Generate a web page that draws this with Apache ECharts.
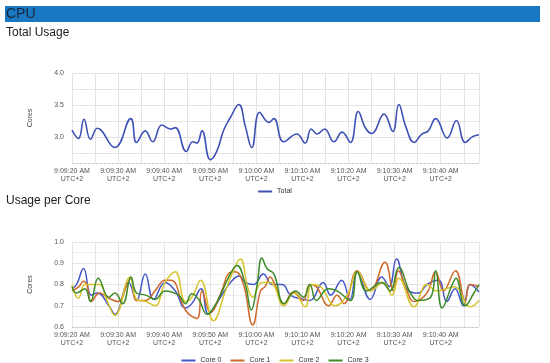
<!DOCTYPE html>
<html>
<head>
<meta charset="utf-8">
<script src="https://cdn.jsdelivr.net/npm/echarts@6/dist/echarts.min.js"></script>
<style>
  html, body { margin: 0; padding: 0; background: #fff; }
  #chart { width: 550px; height: 363px; }
</style>
</head>
<body>
<div id="chart"></div>
<script>
// ---- data (time in seconds after 9:09:20 AM UTC+2) ----
const xTickSeconds = [0, 10, 20, 30, 40, 50, 60, 70, 80];
const xTickLabels = ['9:09:20 AM', '9:09:30 AM', '9:09:40 AM', '9:09:50 AM', '9:10:00 AM',
                     '9:10:10 AM', '9:10:20 AM', '9:10:30 AM', '9:10:40 AM'];
const tzLabel = 'UTC+2';

const totalTimes = [0, 1.4, 2.6, 4, 5.5, 9.3, 12.75, 14, 15.9, 17.5, 19.5, 21.3, 22.4, 24.8, 26.2, 27.1, 28.2,
  30, 31.4, 32.9, 34.3, 36.2, 37.6, 39, 40.7, 42.7, 43.8, 45.9, 48.8, 50.6, 51.9, 53.2, 54.8, 56.8,
  58.6, 60.4, 62.1, 63.7, 65, 67.7, 69.6, 70.9, 72.4, 74.2, 75.9, 77.3, 78.9, 81.4, 83.4, 85.3, 86.9, 88.3];
const totalValues = [3.11, 2.98, 3.28, 2.97, 3.14, 2.84, 3.29, 2.92, 3.10, 2.93, 3.19, 3.13, 3.15, 2.78, 2.93, 2.91, 3.10,
  2.65, 2.78, 3.11, 3.30, 3.51, 3.17, 2.84, 3.39, 3.23, 3.29, 2.93, 3.05, 2.91, 3.13, 3.05, 3.13, 2.93,
  3.08, 2.92, 3.40, 3.14, 3.06, 3.36, 3.09, 3.51, 3.17, 2.92, 3.05, 3.10, 3.29, 2.99, 3.26, 2.92, 3.01, 3.04];

const core0Times = [0, 1, 2.5, 4.2, 5.5, 8, 9.3, 12.3, 14, 15.9, 17.7, 20.2, 22.4, 24.6, 26, 28, 29.6, 32.2, 34.4,
  36.3, 37.6, 39.4, 41.5, 43.4, 45.6, 47.4, 50.2, 51.6, 54.5, 56.1, 58.5, 60.3, 61.9, 64.7, 67.2, 68.8, 70.4,
  72.6, 75.2, 77, 79.5, 81.3, 83.1, 84.9, 86.4, 88.3];
const core0Values = [0.78, 0.80, 0.875, 0.75, 0.76, 0.70, 0.66, 0.81, 0.725, 0.85, 0.73, 0.81, 0.77, 0.69, 0.71, 0.78, 0.66, 0.74, 0.81,
  0.84, 0.81, 0.80, 0.85, 0.80, 0.80, 0.75, 0.73, 0.725, 0.81, 0.75, 0.82, 0.73, 0.86, 0.73, 0.835, 0.79, 0.92,
  0.78, 0.76, 0.80, 0.82, 0.72, 0.78, 0.70, 0.80, 0.765];

const core1Times = [0, 1.5, 2.5, 3.2, 4.2, 6, 8, 10, 12, 12.8, 14, 16, 18, 20.2, 21.5, 24.6, 27.1, 28.2, 30, 32.5,
  33.9, 35.4, 37.2, 39.2, 40.9, 41.9, 43, 44, 46, 48, 50.2, 51.6, 53, 55.7, 57.5, 59, 61.9, 64.7, 67.9, 69.7,
  70.8, 72.5, 74.2, 77, 78.9, 80.6, 83.2, 85.3, 86.4, 88.3];
const core1Values = [0.77, 0.79, 0.815, 0.80, 0.72, 0.76, 0.735, 0.72, 0.80, 0.83, 0.725, 0.725, 0.77, 0.82, 0.82, 0.68, 0.64, 0.77, 0.67, 0.77,
  0.85, 0.86, 0.80, 0.61, 0.77, 0.79, 0.835, 0.80, 0.71, 0.765, 0.725, 0.80, 0.79, 0.70, 0.75, 0.71, 0.865, 0.77, 0.905, 0.77,
  0.865, 0.78, 0.72, 0.76, 0.86, 0.77, 0.865, 0.725, 0.80, 0.79];

const core2Times = [0, 1.4, 2.8, 4.5, 6, 7.5, 9.3, 12.6, 14, 16, 18, 20.2, 22.4, 24.6, 26, 27.9, 30.7, 33.3, 34.7,
  36.5, 38.2, 39.2, 41.2, 43, 46, 48.1, 50.6, 52, 53.9, 57.1, 59.7, 62, 64.7, 67.6, 69.4, 70.9, 74.2, 77, 79.2,
  82.9, 86.4, 88.3];
const core2Values = [0.80, 0.735, 0.80, 0.80, 0.80, 0.73, 0.655, 0.835, 0.73, 0.72, 0.70, 0.81, 0.86, 0.72, 0.74, 0.82, 0.63, 0.77, 0.85,
  0.92, 0.78, 0.74, 0.81, 0.81, 0.70, 0.76, 0.695, 0.80, 0.79, 0.70, 0.75, 0.86, 0.77, 0.81, 0.75, 0.83, 0.695, 0.80, 0.77,
  0.79, 0.695, 0.725];

const core3Times = [0, 1, 2.8, 4, 5.7, 8, 9.3, 11, 12.8, 14, 16, 18, 20.2, 23.1, 24.6, 26, 27.5, 29.3, 30.4, 32.2,
  34, 35.8, 37.6, 38.9, 40.1, 41.2, 42.3, 43.8, 46, 48.5, 50.2, 51.6, 53, 55.6, 57.5, 60.4, 61.9, 63.9, 67.2, 69,
  70.9, 73.4, 75.2, 77.8, 78.9, 80.3, 82.5, 83.3, 85.3, 87.2, 88.3];
const core3Values = [0.79, 0.76, 0.78, 0.72, 0.83, 0.74, 0.76, 0.71, 0.835, 0.76, 0.75, 0.73, 0.77, 0.75, 0.71, 0.757, 0.73, 0.66, 0.68, 0.75,
  0.835, 0.89, 0.80, 0.68, 0.79, 0.925, 0.875, 0.85, 0.71, 0.77, 0.74, 0.80, 0.725, 0.78, 0.77, 0.725, 0.86, 0.77, 0.81, 0.77,
  0.88, 0.76, 0.725, 0.74, 0.865, 0.69, 0.80, 0.83, 0.70, 0.76, 0.80];

const coreNames = ['Core 0', 'Core 1', 'Core 2', 'Core 3'];
const totalYLabels = [3.0, 3.5, 4.0];
const totalYGrid = [2.75, 3.0, 3.25, 3.5, 3.75, 4.0];

// ---- chart ----
const FONT = '"Liberation Sans", Arial, sans-serif';
const lastT = 88.3;
const colors = { total: '#3f51b5', c0: '#4457c9', c1: '#cf6a2c', c2: '#d6c52e', c3: '#3d8a27' };

function pairs(ts, vs) { return ts.map((t, i) => [t, vs[i]]); }
function xLabel(v) {
  const i = xTickSeconds.indexOf(Math.round(v * 1000) / 1000);
  return i >= 0 ? xTickLabels[i] + '\n' + tzLabel : '';
}
function xAxisCfg(gi) {
  return {
    type: 'value', gridIndex: gi, min: 0, max: lastT, interval: 5,
    axisLine: { show: true, lineStyle: { color: '#cccccc', type: [2, 2], width: 1 } },
    axisTick: { show: false },
    splitLine: { show: true, lineStyle: { color: '#e3e3e3', width: 1 } },
    axisLabel: { formatter: xLabel, color: '#555', fontSize: 7, fontFamily: FONT, lineHeight: 8, margin: 4,
                 showMaxLabel: false, hideOverlap: false }
  };
}

const chart = echarts.init(document.getElementById('chart'), null, { renderer: 'canvas' });
chart.setOption({
  animation: false,
  backgroundColor: '#fff',
  textStyle: { fontFamily: FONT },
  graphic: [
    { type: 'rect', shape: { x: 5, y: 6, width: 535, height: 16 }, style: { fill: '#1a78c2' } },
    { type: 'text', x: 6, y: 14, style: { text: 'CPU', fill: '#15283d', font: '14px ' + FONT, textVerticalAlign: 'middle' } },
    { type: 'text', x: 6, y: 33, style: { text: 'Total Usage', fill: '#222', font: '12px ' + FONT, textVerticalAlign: 'middle' } },
    { type: 'text', x: 6, y: 201, style: { text: 'Usage per Core', fill: '#222', font: '12px ' + FONT, textVerticalAlign: 'middle' } }
  ],
  grid: [
    { left: 72, top: 73, width: 407, height: 90 },
    { left: 72, top: 242, width: 407, height: 85 }
  ],
  legend: [
    { data: ['Total'], top: 183, left: 'center', icon: 'rect', itemWidth: 14, itemHeight: 2, itemGap: 9,
      textStyle: { fontSize: 7, color: '#333', fontFamily: FONT } },
    { data: coreNames, top: 352, left: 'center', icon: 'rect', itemWidth: 14, itemHeight: 2, itemGap: 9,
      textStyle: { fontSize: 7, color: '#333', fontFamily: FONT } }
  ],
  xAxis: [xAxisCfg(0), xAxisCfg(1)],
  yAxis: [
    {
      type: 'value', gridIndex: 0, min: 2.6, max: 4.0,
      name: 'Cores', nameLocation: 'middle', nameGap: 38,
      nameTextStyle: { fontSize: 7, color: '#444', fontFamily: FONT },
      axisLine: { show: false },
      axisTick: { show: false, customValues: totalYGrid },
      splitLine: { show: true, lineStyle: { color: '#e3e3e3' } },
      axisLabel: { customValues: totalYLabels, formatter: v => v.toFixed(1), color: '#555', fontSize: 7, margin: 8 }
    },
    {
      type: 'value', gridIndex: 1, min: 0.6, max: 1.0, interval: 0.1,
      name: 'Cores', nameLocation: 'middle', nameGap: 38,
      nameTextStyle: { fontSize: 7, color: '#444', fontFamily: FONT },
      axisLine: { show: false },
      axisTick: { show: false },
      minorTick: { show: false, splitNumber: 2 },
      splitLine: { show: true, lineStyle: { color: '#e3e3e3' } },
      minorSplitLine: { show: true, lineStyle: { color: '#efefef' } },
      axisLabel: { formatter: v => v.toFixed(1), color: '#555', fontSize: 7, margin: 8, showMinLabel: true }
    }
  ],
  series: [
    { name: 'Total', type: 'line', xAxisIndex: 0, yAxisIndex: 0, data: pairs(totalTimes, totalValues),
      smooth: 0.45, showSymbol: false, lineStyle: { width: 1.6, color: colors.total }, itemStyle: { color: colors.total } },
    { name: 'Core 0', type: 'line', xAxisIndex: 1, yAxisIndex: 1, data: pairs(core0Times, core0Values),
      smooth: 0.45, showSymbol: false, lineStyle: { width: 1.5, color: colors.c0 }, itemStyle: { color: colors.c0 } },
    { name: 'Core 1', type: 'line', xAxisIndex: 1, yAxisIndex: 1, data: pairs(core1Times, core1Values),
      smooth: 0.45, showSymbol: false, lineStyle: { width: 1.5, color: colors.c1 }, itemStyle: { color: colors.c1 } },
    { name: 'Core 2', type: 'line', xAxisIndex: 1, yAxisIndex: 1, data: pairs(core2Times, core2Values),
      smooth: 0.45, showSymbol: false, lineStyle: { width: 1.5, color: colors.c2 }, itemStyle: { color: colors.c2 } },
    { name: 'Core 3', type: 'line', xAxisIndex: 1, yAxisIndex: 1, data: pairs(core3Times, core3Values),
      smooth: 0.45, showSymbol: false, lineStyle: { width: 1.5, color: colors.c3 }, itemStyle: { color: colors.c3 } }
  ]
});
</script>
</body>
</html>
